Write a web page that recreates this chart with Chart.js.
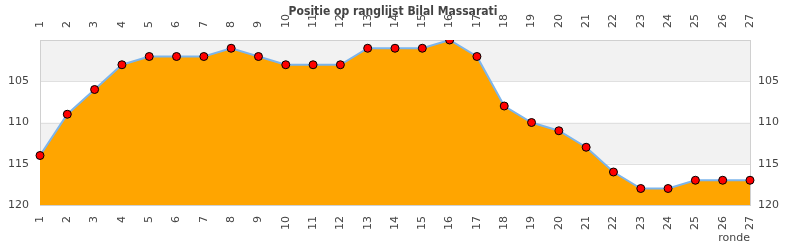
<!DOCTYPE html>
<html>
<head>
<meta charset="utf-8">
<script src="https://cdn.jsdelivr.net/npm/chart.js@4/dist/chart.umd.min.js"></script>
<style>
  html, body { margin: 0; padding: 0; background: #fff; }
  #wrap { width: 790px; height: 250px; }
</style>
</head>
<body>
<div id="wrap"><canvas id="chart" width="790" height="250"></canvas></div>
<script>
// rounds and ranking position
const rounds = ['1','2','3','4','5','6','7','8','9','10','11','12','13','14','15','16','17','18','19','20','21','22','23','24','25','26','27'];
const positions = [114, 109, 106, 103, 102, 102, 102, 101, 102, 103, 103, 103, 101, 101, 101, 100, 102, 108, 110, 111, 113, 116, 118, 118, 117, 117, 117];
const yTicks = [105, 110, 115, 120];
const bands = [[100, 105], [110, 115]];

const tickFont = { family: 'DejaVu Sans', size: 11 };
const tickColor = '#444';

// grey bands behind the line + frame around the plot
const bandPlugin = {
  id: 'bands',
  beforeDatasetsDraw(chart) {
    const { ctx, chartArea: a, scales } = chart;
    const y = scales.y;
    ctx.save();
    ctx.fillStyle = '#f2f2f2';
    bands.forEach(([from, to]) => {
      const p1 = y.getPixelForValue(from);
      const p2 = y.getPixelForValue(to);
      ctx.fillRect(a.left, p1, a.right - a.left, p2 - p1);
    });
    ctx.strokeStyle = '#e0e0e0';
    ctx.lineWidth = 1;
    yTicks.slice(0, 3).forEach(v => {
      const p = Math.round(y.getPixelForValue(v)) + 0.5;
      ctx.beginPath();
      ctx.moveTo(a.left, p);
      ctx.lineTo(a.right, p);
      ctx.stroke();
    });
    ctx.strokeStyle = '#d0d0d0';
    ctx.strokeRect(a.left + 0.5, a.top + 0.5, a.right - a.left, a.bottom - a.top);
    ctx.restore();
  }
};

const titlePlugin = {
  id: 'topTitle',
  afterDraw(chart) {
    const ctx = chart.ctx;
    ctx.save();
    ctx.font = "bold 12px 'DejaVu Sans Condensed', 'DejaVu Sans'";
    ctx.fillStyle = '#444';
    ctx.textAlign = 'center';
    ctx.textBaseline = 'middle';
    ctx.fillText('Positie op ranglijst Bilal Massarati', 393, 12);
    ctx.restore();
  }
};

const ctx = document.getElementById('chart').getContext('2d');
new Chart(ctx, {
  type: 'line',
  data: {
    labels: rounds,
    datasets: [{
      data: positions,
      borderColor: '#7cb5ec',
      borderWidth: 2,
      backgroundColor: '#ffa500',
      fill: { value: 120 },
      tension: 0,
      pointRadius: 4,
      pointHoverRadius: 4,
      pointBackgroundColor: '#ff0000',
      pointBorderColor: '#000',
      pointBorderWidth: 1
    }]
  },
  options: {
    responsive: false,
    animation: false,
    layout: { padding: 0 },
    plugins: { legend: { display: false }, tooltip: { enabled: false } },
    scales: {
      x: {
        type: 'category',
        position: 'bottom',
        offset: false,
        grid: { display: false, drawTicks: false },
        border: { display: false },
        ticks: { font: tickFont, color: tickColor, minRotation: 90, maxRotation: 90, autoSkip: false, padding: 11 },
        title: { display: true, text: 'ronde', align: 'end', font: tickFont, color: tickColor, padding: { top: 0, bottom: 5 } },
        afterFit(s) { s.height = 45; }
      },
      x2: {
        type: 'category',
        position: 'top',
        labels: rounds,
        offset: false,
        grid: { display: false, drawTicks: false },
        border: { display: false },
        ticks: { font: { family: 'DejaVu Sans', size: 11, lineHeight: 0 }, color: tickColor, minRotation: 90, maxRotation: 90, autoSkip: false, padding: 12 },
        afterFit(s) { s.height = 40; }
      },
      y: {
        position: 'left',
        reverse: true,
        min: 100,
        max: 120,
        grid: { display: false, drawTicks: false },
        border: { display: false },
        afterBuildTicks(s) { s.ticks = yTicks.map(v => ({ value: v })); },
        ticks: { font: tickFont, color: tickColor, padding: 11 },
        afterFit(s) { s.width = 40; }
      },
      y2: {
        position: 'right',
        reverse: true,
        min: 100,
        max: 120,
        grid: { display: false, drawTicks: false },
        border: { display: false },
        afterBuildTicks(s) { s.ticks = yTicks.map(v => ({ value: v })); },
        ticks: { font: tickFont, color: tickColor, padding: 8 },
        afterFit(s) { s.width = 40; }
      }
    }
  },
  plugins: [bandPlugin, titlePlugin]
});
</script>
</body>
</html>
